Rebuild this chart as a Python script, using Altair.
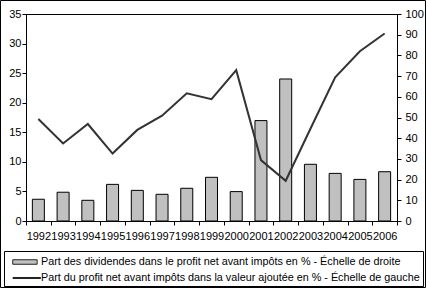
import altair as alt
import pandas as pd

annees = ["1992", "1993", "1994", "1995", "1996", "1997", "1998", "1999",
          "2000", "2001", "2002", "2003", "2004", "2005", "2006"]
# Part des dividendes (échelle de droite, %)
dividendes = [10.5, 13.9, 10.0, 17.7, 14.8, 12.9, 15.8, 21.1,
              14.2, 48.5, 68.6, 27.4, 23.0, 20.1, 23.8]
# Part du profit net (échelle de gauche, %)
profit = [17.25, 13.1, 16.4, 11.4, 15.4, 17.8, 21.6, 20.6,
          25.5, 10.3, 6.8, 15.6, 24.3, 28.7, 31.7]
series = [
    "Part des dividendes dans le profit net avant impôts en % - Échelle de droite",
    "Part du profit net avant impôts dans la valeur ajoutée en % - Échelle de gauche",
]
ticks_gauche = [0, 5, 10, 15, 20, 25, 30, 35]
ticks_droite = [0, 10, 20, 30, 40, 50, 60, 70, 80, 90, 100]

df = pd.DataFrame({"annee": annees, "dividendes": dividendes, "profit": profit})
leg = pd.DataFrame({"serie": series})

FONT = "Liberation Sans"
W, H = 371, 207

axis_common = dict(labelFont=FONT, labelFontSize=11, labelColor="black",
                   domainColor="black", tickColor="black", grid=False)

x = alt.X("annee:N", sort=annees, title=None,
          scale=alt.Scale(paddingInner=0, paddingOuter=0),
          axis=alt.Axis(labelAngle=0, tickBand="extent", labelOverlap=False,
                        labelPadding=5, tickSize=4, labelBound=False,
                        labelFlush=False, **axis_common))

bars = alt.Chart(df).mark_bar(size=12, fill="#c0c0c0", stroke="black", strokeWidth=1).encode(
    x=x,
    y=alt.Y("dividendes:Q", title=None,
            scale=alt.Scale(domain=[0, 100], nice=False),
            axis=alt.Axis(orient="right", values=ticks_droite, tickSize=4,
                          labelPadding=4, **axis_common)),
)

line = alt.Chart(df).mark_line(color="#333333", strokeWidth=2).encode(
    x=x,
    y=alt.Y("profit:Q", title=None,
            scale=alt.Scale(domain=[0, 35], nice=False),
            axis=alt.Axis(orient="left", values=ticks_gauche, tickSize=4,
                          labelPadding=1, **axis_common)),
)

shapes = ["M-0.3,-0.3H2.95V0.3H-0.3Z", "M-0.27,-0.07H3.4V0.07H-0.27Z"]
legend_def = alt.Legend(title=None, orient="none", legendX=-22, legendY=237,
                        direction="vertical", symbolSize=225, symbolOpacity=1,
                        symbolStrokeWidth=1,
                        labelFont=FONT, labelFontSize=10.8, labelColor="black",
                        labelOffset=18, padding=3, strokeColor="black",
                        fillColor="white", rowPadding=3, labelLimit=600)
legend_layer = alt.Chart(leg).mark_point(filled=True, strokeWidth=1, clip=True).encode(
    shape=alt.Shape("serie:N", scale=alt.Scale(domain=series, range=shapes), legend=legend_def),
    fill=alt.Fill("serie:N", scale=alt.Scale(domain=series, range=["#c0c0c0", "#222222"]),
                  legend=legend_def),
    stroke=alt.Stroke("serie:N", scale=alt.Scale(domain=series, range=["#222222", "#222222"]),
                      legend=legend_def),
    x=alt.value(0),
    y=alt.value(-80),
)

frame = alt.Chart(pd.DataFrame({"a": [0]})).mark_rect(
    fill="white", fillOpacity=0, stroke="black", strokeWidth=1
).encode(x=alt.value(-25.5), x2=alt.value(399.5), y=alt.value(-13.5), y2=alt.value(273.5))

chart = alt.layer(bars, line, legend_layer, frame).resolve_scale(y="independent").properties(
    width=W, height=H,
    padding={"left": 26, "top": 14, "right": 29, "bottom": 67},
    autosize=alt.AutoSizeParams(type="none"),
    background="white",
).configure_view(stroke="black", strokeWidth=1)

chart.save("out.html", embed_options={"renderer": "svg", "actions": False})
